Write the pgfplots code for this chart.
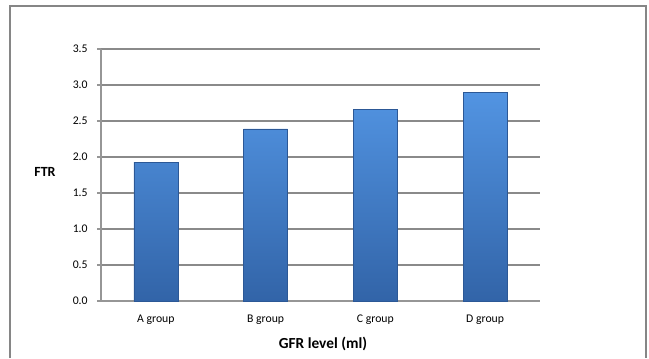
\documentclass[border=0pt]{standalone}
\usepackage{pgfplots}
\pgfplotsset{compat=1.18}
\usepackage{fontspec}
\setmainfont{Carlito}
\definecolor{gridc}{RGB}{138,138,138}
\definecolor{axisc}{RGB}{150,150,150}
\definecolor{framec}{RGB}{134,134,134}
\definecolor{bartop}{RGB}{82,148,226}
\definecolor{barbot}{RGB}{50,100,168}
\definecolor{baredge}{RGB}{44,88,150}
\begin{document}
\begin{tikzpicture}
\begin{scope}[x=0.75pt,y=0.75pt]
\useasboundingbox (0,0) rectangle (649,358);
\draw[framec, line width=1pt] (10,0) -- (10,352) -- (646,352) -- (646,0);
\end{scope}
\begin{axis}[
  at={(75.75pt,42.75pt)}, anchor=south west,
  scale only axis,
  width=329.25pt, height=189pt,
  xmin=-0.5, xmax=3.5,
  ymin=0, ymax=3.5,
  ytick={0,0.5,...,3.5},
  xtick={0,1,2,3},
  xticklabels={A group, B group, C group, D group},
  extra x ticks={-0.5,0.5,1.5,2.5,3.5},
  extra x tick labels={},
  extra x tick style={major tick length=3pt, tick style={axisc, line width=0.8pt}, grid=none},
  axis x line*=bottom,
  axis y line*=left,
  axis line style={axisc, line width=0.8pt},
  tick align=outside,
  x tick style={draw=none},
  y tick style={axisc, line width=0.8pt},
  major tick length=3pt,
  ymajorgrids,
  grid style={gridc, line width=0.8pt},
  yticklabel style={/pgf/number format/fixed, /pgf/number format/precision=1, /pgf/number format/fixed zerofill, font=\fontsize{8.8}{10}\selectfont, xshift=-3.5pt},
  xticklabel style={font=\fontsize{8.8}{10}\selectfont, yshift=-4pt},
  /pgf/number format/assume math mode=true,
  ybar, bar width=33pt,
  clip=false,
]
\addplot[ybar, draw=baredge, line width=0.4pt, top color=bartop, bottom color=barbot]
  coordinates {(0,1.93) (1,2.39) (2,2.66) (3,2.90)};
\end{axis}
\node[font=\fontsize{10.5}{12}\selectfont\bfseries] at (33.75pt,139.5pt) {FTR};
\node[font=\fontsize{11.5}{13}\selectfont\bfseries] at (242.25pt,10.5pt) {GFR level (ml)};
\end{tikzpicture}
\end{document}
